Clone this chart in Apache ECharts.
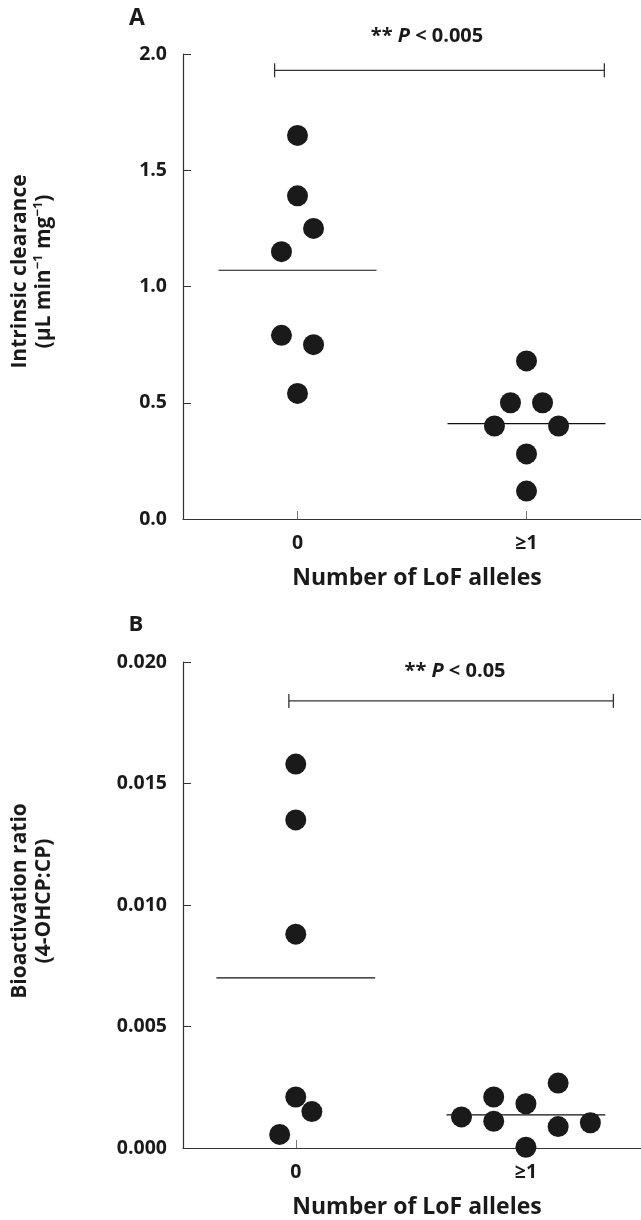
<!DOCTYPE html>
<html><head><meta charset="utf-8">
<script src="https://cdn.jsdelivr.net/npm/echarts@6/dist/echarts.min.js"></script>
<style>html,body{margin:0;padding:0;background:#fff}#c{width:641px;height:1220px}</style>
</head><body><div id="c"></div>
<script>
// ---- data ----
const categories = ['0', '\u22651'];
const xAxisTitle = 'Number of LoF alleles';

// Panel A: intrinsic clearance (µL min-1 mg-1)
const clearanceNoLoF = [1.65, 1.39, 1.25, 1.15, 0.79, 0.75, 0.54];
const clearanceNoLoFJitter = [0, 0, 0.07, -0.07, -0.07, 0.07, 0];
const clearanceLoF = [0.68, 0.50, 0.50, 0.40, 0.40, 0.28, 0.12];
const clearanceLoFJitter = [0, -0.07, 0.07, -0.14, 0.14, 0, 0];
const clearanceMeans = [1.07, 0.41];
const clearanceBracket = { from: -0.10, to: 1.34, level: 1.93 };
const clearancePText = 'P < 0.005';

// Panel B: bioactivation ratio (4-OHCP:CP)
const ratioNoLoF = [0.0158, 0.0135, 0.0088, 0.0021, 0.0015, 0.00056];
const ratioNoLoFJitter = [0, 0, 0, 0, 0.07, -0.07];
const ratioLoF = [0.00267, 0.0021, 0.00182, 0.00128, 0.0011, 0.00088, 0.00104, 0.00003];
const ratioLoFJitter = [0.14, -0.14, 0, -0.28, -0.14, 0.14, 0.28, 0];
const ratioMeans = [0.0070, 0.00136];
const ratioBracket = { from: -0.03, to: 1.38, level: 0.0184 };
const ratioPText = 'P < 0.05';

// ---- styles ----
const FONT = 'Open Sans';
const INK = '#1a1a1a';
const AXIS = '#333';
const MEAN_HALF = 0.345;

function pts(vals, jit, cat) { return vals.map((v, i) => [cat + jit[i], v]); }
function meanSeg(m, cat) { return [[cat - MEAN_HALF, m], [cat + MEAN_HALF, m]]; }

function xAxisCfg(gi, min, max) {
  return {
    type: 'value', gridIndex: gi, min: min, max: max,
    axisLine: { show: true, onZero: false, lineStyle: { color: AXIS, width: 1.2 } },
    axisTick: { show: true, inside: true, length: 8, customValues: [0, 1], lineStyle: { color: '#777', width: 1 } },
    axisLabel: { show: true, customValues: [0, 1], margin: 14, formatter: v => categories[Math.round(v)],
      fontFamily: FONT, fontWeight: 700, fontSize: 19.5, color: INK },
    splitLine: { show: false },
    name: xAxisTitle, nameLocation: 'middle', nameGap: 48,
    nameTextStyle: { fontFamily: FONT, fontWeight: 700, fontSize: 23, color: INK, padding: [0, 0, 0, 10] }
  };
}
function yAxisCfg(gi, max, interval, digits, name, rich, shift) {
  return {
    type: 'value', gridIndex: gi, min: 0, max: max, interval: interval,
    axisLine: { show: true, onZero: false, lineStyle: { color: AXIS, width: 1.2 } },
    axisTick: { show: true, inside: true, length: 8, lineStyle: { color: AXIS, width: 1 } },
    axisLabel: { margin: 16, formatter: v => v.toFixed(digits), fontFamily: FONT, fontWeight: 700, fontSize: 19.5, color: INK },
    splitLine: { show: false },
    name: name, nameLocation: 'middle', nameGap: 127,
    nameTextStyle: { fontFamily: FONT, fontWeight: 700, fontSize: 21, color: INK, lineHeight: 24, rich: rich,
      padding: [0, 0, 0, shift] }
  };
}

const richA = {
  n: { fontFamily: FONT, fontWeight: 700, fontSize: 21, color: INK, lineHeight: 24 },
  s: { fontFamily: FONT, fontWeight: 700, fontSize: 13, color: INK, lineHeight: 13, verticalAlign: 'top' }
};
const nameA = '{n|Intrinsic clearance}\n{n|(\u00b5L min}{s|\u22121}{n| mg}{s|\u22121}{n|)}';
const nameB = 'Bioactivation ratio\n(4-OHCP:CP)';

function scatter(xi, yi, data) {
  return { type: 'scatter', xAxisIndex: xi, yAxisIndex: yi, data: data, symbol: 'circle', symbolSize: 21,
    itemStyle: { color: INK, opacity: 1 }, clip: false, z: 5, silent: true };
}
function meanLine(xi, yi, data) {
  return { type: 'line', xAxisIndex: xi, yAxisIndex: yi, data: data, symbol: 'none',
    lineStyle: { color: '#111', width: 1.2 }, z: 4, silent: true };
}
function bracket(xi, yi, b) {
  return { type: 'line', xAxisIndex: xi, yAxisIndex: yi, data: [[b.from, b.level], [b.to, b.level]],
    symbol: 'rect', symbolSize: [1.3, 14], itemStyle: { color: '#333' },
    lineStyle: { color: '#333', width: 1.3 }, z: 4, silent: true, clip: false };
}

const pRich = {
  a: { fontFamily: FONT, fontWeight: 700, fontSize: 20, fill: INK },
  p: { fontFamily: FONT, fontWeight: 700, fontStyle: 'italic', fontSize: 20, fill: INK }
};

const option = {
  backgroundColor: '#fff',
  animation: false,
  grid: [
    { left: 179, top: 54, width: 466, height: 465 },
    { left: 179, top: 662, width: 491, height: 493 }
  ],
  xAxis: [ xAxisCfg(0, -0.5, 1.5), xAxisCfg(1, -0.49, 1.5) ],
  yAxis: [ yAxisCfg(0, 2.0, 0.5, 1, nameA, richA, 30), yAxisCfg(1, 0.02, 0.005, 3, nameB, null, 8) ],
  series: [
    scatter(0, 0, pts(clearanceNoLoF, clearanceNoLoFJitter, 0)),
    scatter(0, 0, pts(clearanceLoF, clearanceLoFJitter, 1)),
    meanLine(0, 0, meanSeg(clearanceMeans[0], 0)),
    meanLine(0, 0, meanSeg(clearanceMeans[1], 1)),
    bracket(0, 0, clearanceBracket),
    scatter(1, 1, pts(ratioNoLoF, ratioNoLoFJitter, 0)),
    scatter(1, 1, pts(ratioLoF, ratioLoFJitter, 1)),
    meanLine(1, 1, meanSeg(ratioMeans[0], 0)),
    meanLine(1, 1, meanSeg(ratioMeans[1], 1)),
    bracket(1, 1, ratioBracket)
  ],
  graphic: [
    { type: 'text', x: 137, y: 18, style: { text: 'A', fontFamily: FONT, fontWeight: 700, fontSize: 23, fill: INK, textAlign: 'center', textVerticalAlign: 'middle' } },
    { type: 'text', x: 136, y: 625, style: { text: 'B', fontFamily: FONT, fontWeight: 700, fontSize: 22, fill: INK, textAlign: 'center', textVerticalAlign: 'middle' } },
    { type: 'text', x: 427, y: 36, style: { text: '{a|** }{p|' + clearancePText.slice(0, 1) + '}{a|' + clearancePText.slice(1) + '}', rich: pRich, textAlign: 'center', textVerticalAlign: 'middle' } },
    { type: 'text', x: 455, y: 671, style: { text: '{a|** }{p|' + ratioPText.slice(0, 1) + '}{a|' + ratioPText.slice(1) + '}', rich: pRich, textAlign: 'center', textVerticalAlign: 'middle' } }
  ]
};

const chart = echarts.init(document.getElementById('c'), null, { renderer: 'canvas' });
chart.setOption(option);
</script>
</body></html>
